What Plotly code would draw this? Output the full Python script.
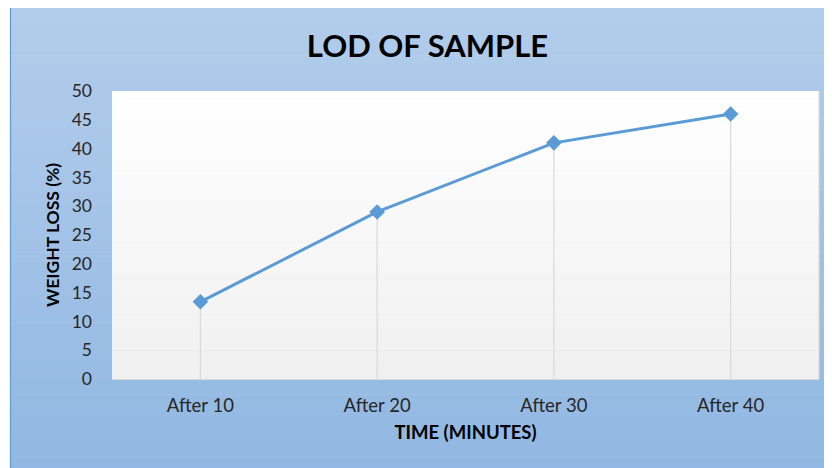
import plotly.graph_objects as go

# ---- data ----
categories = ["After 10", "After 20", "After 30", "After 40"]
weight_loss = [13.4, 29.0, 41.0, 46.0]
y_ticks = [0, 5, 10, 15, 20, 25, 30, 35, 40, 45, 50]
title_text = "LOD OF SAMPLE"
x_title = "TIME (MINUTES)"
y_title = "WEIGHT LOSS (%)"

# the page body has an 8px margin, so the figure starts at (8, 8) in the window
OFF = 8
W, H = 832 - OFF, 468 - OFF
L, R, T, B = 112 - OFF, 13, 91 - OFF, 89
PW, PH = W - L - R, H - T - B


def px_to_paper_x(px):
    return (px - L) / PW


def px_to_paper_y(py):
    return (H - B - py) / PH


def lerp(c1, c2, t):
    return "rgb(%d,%d,%d)" % tuple(round(a + (b - a) * t) for a, b in zip(c1, c2))


shapes = []
# outer chart frame gradient (light blue top -> darker blue bottom)
frame_top, frame_bot = (179, 205, 235), (145, 184, 226)
fx0, fx1, fy0, fy1 = 10 - OFF, W + 5, -OFF, H + 5
n = 60
for i in range(n):
    y0 = fy0 + (fy1 - fy0) * i / n
    y1 = fy0 + (fy1 - fy0) * (i + 1) / n + 0.6
    shapes.append(dict(type="rect", xref="paper", yref="paper", layer="below",
                       x0=px_to_paper_x(fx0), x1=px_to_paper_x(fx1),
                       y0=px_to_paper_y(y1), y1=px_to_paper_y(y0),
                       fillcolor=lerp(frame_top, frame_bot, i / (n - 1)),
                       line=dict(width=0)))
# frame border (left edge visible)
shapes.append(dict(type="line", xref="paper", yref="paper", layer="below",
                   x0=px_to_paper_x(fx0 + 0.5), x1=px_to_paper_x(fx0 + 0.5),
                   y0=px_to_paper_y(fy1), y1=px_to_paper_y(0),
                   line=dict(color="#5B9BD5", width=1.2)))
# plot area gradient (white top -> light gray bottom)
p_top, p_bot = (255, 255, 255), (240, 240, 240)
m = 40
for i in range(m):
    shapes.append(dict(type="rect", xref="paper", yref="paper", layer="below",
                       x0=0, x1=1,
                       y0=1 - (i + 1) / m - 0.002, y1=1 - i / m,
                       fillcolor=lerp(p_top, p_bot, i / (m - 1)),
                       line=dict(width=0)))
# plot area right light border
shapes.append(dict(type="line", xref="paper", yref="paper", layer="below",
                   x0=1, x1=1, y0=0, y1=1, line=dict(color="#D9D9D9", width=1)))

fig = go.Figure()

# drop lines from each point to the axis
drop_x, drop_y = [], []
for c, v in zip(categories, weight_loss):
    drop_x += [c, c, None]
    drop_y += [0, v, None]
fig.add_trace(go.Scatter(x=drop_x, y=drop_y, mode="lines",
                         line=dict(color="#D9D9D9", width=1.2),
                         hoverinfo="skip", showlegend=False))

fig.add_trace(go.Scatter(x=categories, y=weight_loss, mode="lines+markers",
                         line=dict(color="#5B9BD5", width=3),
                         marker=dict(symbol="diamond", size=12, color="#5B9BD5"),
                         showlegend=False))

fig.update_layout(
    width=W, height=H, autosize=False,
    margin=dict(l=L, r=R, t=T, b=B),
    paper_bgcolor="white",
    plot_bgcolor="rgba(0,0,0,0)",
    shapes=shapes,
    font=dict(family="Lato, 'Open Sans', sans-serif", color="#262626"),
    title=dict(text="<b>" + title_text + "</b>", x=419.5 / W, xanchor="center",
               y=1 - 38 / H, yanchor="middle", yref="container",
               font=dict(size=31, color="#000000", family="Lato, sans-serif")),
    xaxis=dict(type="category", categoryorder="array", categoryarray=categories,
               range=[-0.5, len(categories) - 0.5],
               showgrid=False, zeroline=False,
               showline=True, linecolor="#D9D9D9", linewidth=1,
               ticks="", tickfont=dict(size=18.5, color="#262626"),
               ticklabelstandoff=10,
               title=dict(text="<b>" + x_title + "</b>", standoff=10,
                          font=dict(size=18.5, color="#000000"))),
    yaxis=dict(range=[0, 50], tickvals=y_ticks, showgrid=False, zeroline=False,
               showline=False, ticks="", tickfont=dict(size=17.5, color="#262626"),
               ticklabelstandoff=19,
               title=dict(text="<b>" + y_title + "</b>", standoff=7,
                          font=dict(size=17.5, color="#000000"))),
)

fig.write_html("out.html")
